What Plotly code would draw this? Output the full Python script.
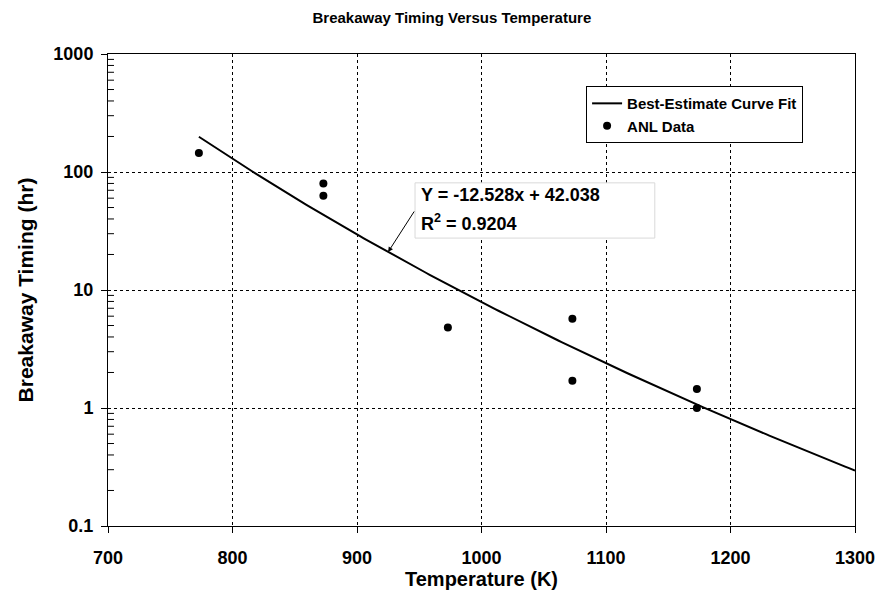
import numpy as np
import plotly.graph_objects as go

# ANL breakaway measurements
anl_temperature_k = [773, 873, 873, 973, 1073, 1073, 1173, 1173]
anl_breakaway_hr = [145, 80, 63, 4.8, 5.7, 1.7, 1.45, 1.0]

# Best-estimate fit: log10(t [s]) = slope * log10(T [K]) + intercept
fit_slope = -12.528
fit_intercept = 42.038
fit_r2 = 0.9204
fit_t_start = 773
fit_t_end = 1300

x_ticks = [700, 800, 900, 1000, 1100, 1200, 1300]
y_decades = [0.1, 1, 10, 100]

fit_temperature = np.linspace(fit_t_start, fit_t_end, 200)
fit_hours = 10 ** (fit_slope * np.log10(fit_temperature) + fit_intercept) / 3600.0

# minor ticks at 2..9 within each decade
minor_vals = [d * k for d in y_decades for k in range(2, 10)]

FONT = "Arial, Liberation Sans, sans-serif"

fig = go.Figure()
fig.add_trace(go.Scatter(
    x=fit_temperature, y=fit_hours, mode="lines",
    name="Best-Estimate Curve Fit",
    line=dict(color="black", width=2),
))
fig.add_trace(go.Scatter(
    x=anl_temperature_k, y=anl_breakaway_hr, mode="markers",
    name="ANL Data",
    marker=dict(color="black", size=8),
))
# Minor tick marks just inside the y axis (short horizontal dashes)
fig.add_trace(go.Scatter(
    x=[702] * len(minor_vals), y=minor_vals, mode="markers",
    marker=dict(symbol="line-ew", size=5, line=dict(color="black", width=1)),
    showlegend=False, hoverinfo="skip", cliponaxis=False,
))

axis_common = dict(
    showline=True, linecolor="black", linewidth=1, mirror=True,
    showgrid=True, gridcolor="black", gridwidth=1, griddash="3px,3px",
    ticks="outside", ticklen=6, tickcolor="black",
    tickfont=dict(family=FONT, size=18, color="black", weight="bold"),
    zeroline=False, automargin=False,
)

fig.update_xaxes(
    **axis_common,
    range=[700, 1300], tickvals=x_ticks, ticklabelstandoff=9,
    title=dict(text="<b>Temperature (K)</b>", font=dict(family=FONT, size=20, color="black"), standoff=4),
)
fig.update_yaxes(
    **axis_common,
    type="log", range=[-1, 3], tickmode="linear", tick0=0, dtick=1,
    ticklabelstandoff=4,
    title=dict(text="<b>Breakaway Timing (hr)</b>", font=dict(family=FONT, size=21, color="black"), standoff=14),
)

# Equation box
fig.add_shape(
    type="rect", xref="paper", yref="paper",
    x0=0.411, x1=0.732, y0=0.610, y1=0.727,
    line=dict(color="#d9d9d9", width=1), fillcolor="white", layer="above",
)
fig.add_annotation(
    xref="paper", yref="paper", x=0.416, y=0.701, xanchor="left", yanchor="middle",
    text=f"<b>Y = {fit_slope}x + {fit_intercept}</b>", showarrow=False,
    font=dict(family=FONT, size=18, color="black"),
)
fig.add_annotation(
    xref="paper", yref="paper", x=0.416, y=0.642, xanchor="left", yanchor="middle",
    text=f"<b>R<sup>2</sup> = {fit_r2}</b>", showarrow=False,
    font=dict(family=FONT, size=18, color="black"),
)
# Arrow from the equation box to the fitted curve
arrow_t = 925
arrow_hr = 10 ** (fit_slope * np.log10(arrow_t) + fit_intercept) / 3600.0
fig.add_annotation(
    x=arrow_t, y=np.log10(arrow_hr), text="", showarrow=True,
    arrowhead=2, arrowsize=1, arrowwidth=1, arrowcolor="black",
    ax=27, ay=-42,
)

fig.update_layout(
    width=886, height=595,
    margin=dict(l=108, r=31, t=54, b=69),
    paper_bgcolor="white", plot_bgcolor="white",
    font=dict(family=FONT, color="black"),
    title=dict(
        text="<b>Breakaway Timing Versus Temperature</b>",
        x=0.51, xref="container", xanchor="center", y=0.97, yanchor="middle",
        font=dict(family=FONT, size=15, color="black"),
    ),
    legend=dict(
        x=0.64, y=0.932, xanchor="left", yanchor="top",
        bgcolor="white", bordercolor="black", borderwidth=1,
        font=dict(family=FONT, size=15, color="black", weight="bold"),
        tracegroupgap=0, itemwidth=30,
    ),
)

fig.write_html("out.html")
